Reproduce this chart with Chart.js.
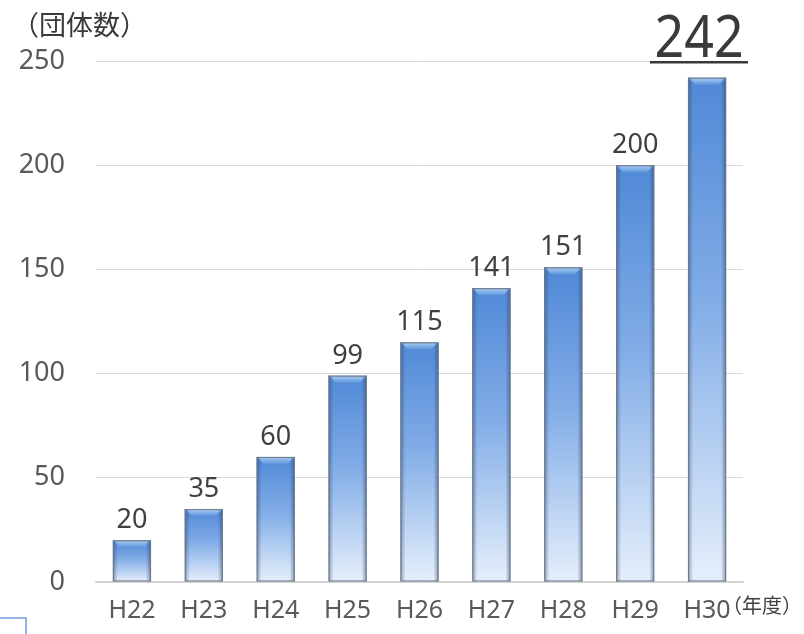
<!DOCTYPE html>
<html lang="ja">
<head>
<meta charset="utf-8">
<title>団体数の推移</title>
<script src="https://cdn.jsdelivr.net/npm/chart.js@4/dist/chart.umd.min.js"></script>
<style>
  html, body { margin: 0; padding: 0; background: #ffffff; }
  #wrap { position: relative; width: 804px; height: 634px; overflow: hidden; }
  canvas { position: absolute; left: 0; top: 0; }
  #corner { position: absolute; left: -2px; top: 617px; width: 29px; height: 30px;
            border: 2px solid #8fb4e3; box-sizing: border-box; background: #fff; }
</style>
</head>
<body>
<div id="wrap">
  <canvas id="chart" width="804" height="634"></canvas>
  <div id="corner"></div>
</div>
<script>
// 年度ごとの団体数
const years = ['H22', 'H23', 'H24', 'H25', 'H26', 'H27', 'H28', 'H29', 'H30'];
const groupCounts = [20, 35, 60, 99, 115, 141, 151, 200, 242];
const yTicks = [0, 50, 100, 150, 200, 250];
const yAxisTitle = '（団体数）';
const xAxisUnit = '（年度）';

const FONT = '"Noto Sans", "Noto Sans CJK JP", sans-serif';
const CJK_FONT = '"Noto Sans CJK JP", sans-serif';

// Per-bar vertical gradient: deeper blue at the top, pale at the base
function barGradient(ctx) {
  const chart = ctx.chart;
  const area = chart.chartArea;
  if (!area || ctx.dataIndex === undefined) return '#6f9fe0';
  const y = chart.scales.y;
  const top = y.getPixelForValue(groupCounts[ctx.dataIndex]);
  const bottom = y.getPixelForValue(0);
  const g = chart.ctx.createLinearGradient(0, top, 0, bottom);
  g.addColorStop(0, '#5089d7');
  g.addColorStop(0.45, '#82ade7');
  g.addColorStop(1, '#e6effb');
  return g;
}

// Bevel shading on each bar: light top face and darker sides
const bevelPlugin = {
  id: 'bevel',
  afterDatasetsDraw(chart) {
    const c = chart.ctx;
    const meta = chart.getDatasetMeta(0);
    meta.data.forEach((bar) => {
      const p = bar.getProps(['x', 'y', 'base', 'width'], true);
      const l = p.x - p.width / 2, r = p.x + p.width / 2;
      const t = p.y, b = p.base;
      const d = 7;
      c.save();
      // top face
      const tg = c.createLinearGradient(0, t, 0, t + d);
      tg.addColorStop(0, '#a9cdf5');
      tg.addColorStop(1, '#5f97dc');
      c.fillStyle = tg;
      c.beginPath();
      c.moveTo(l, t);
      c.lineTo(r, t);
      c.lineTo(r - d, t + d);
      c.lineTo(l + d, t + d);
      c.closePath();
      c.fill();
      // side shading
      const lg = c.createLinearGradient(l, 0, l + 5, 0);
      lg.addColorStop(0, 'rgba(40,60,100,0.45)');
      lg.addColorStop(1, 'rgba(40,60,100,0)');
      c.fillStyle = lg;
      c.fillRect(l, t, 5, b - t);
      const rg = c.createLinearGradient(r - 5, 0, r, 0);
      rg.addColorStop(0, 'rgba(40,60,100,0)');
      rg.addColorStop(1, 'rgba(40,60,100,0.5)');
      c.fillStyle = rg;
      c.fillRect(r - 5, t, 5, b - t);
      // outline
      c.strokeStyle = 'rgba(110,120,135,0.9)';
      c.lineWidth = 1.2;
      c.strokeRect(l + 0.5, t + 0.5, p.width - 1, b - t - 1);
      c.restore();
    });
  }
};

// Value labels, axis captions and the headline total
const labelPlugin = {
  id: 'labels',
  afterDraw(chart) {
    const c = chart.ctx;
    const meta = chart.getDatasetMeta(0);
    const last = groupCounts.length - 1;
    c.save();
    c.fillStyle = '#404040';
    c.textAlign = 'center';
    c.textBaseline = 'alphabetic';
    c.font = '27px ' + FONT;
    meta.data.forEach((bar, i) => {
      if (i === last) return;
      c.fillText(String(groupCounts[i]), bar.x, bar.y - 12);
    });
    // headline total above the final bar, underlined
    const lastBar = meta.data[last];
    const txt = String(groupCounts[last]);
    const cx = lastBar.x - 8;
    c.fillStyle = '#3a3a3a';
    c.font = '59px ' + FONT;
    c.save();
    c.translate(cx, 57);
    c.scale(0.88, 1);
    c.fillText(txt, 0, 0);
    c.restore();
    c.fillRect(650, 61, 98, 2.5);
    // axis captions
    c.fillStyle = '#3a3a3a';
    c.textAlign = 'left';
    c.font = '27px ' + CJK_FONT;
    c.fillText(yAxisTitle, 12, 35);
    c.fillStyle = '#404040';
    c.font = '20px ' + CJK_FONT;
    c.fillText(xAxisUnit, 722, 613);
    c.restore();
  }
};

new Chart(document.getElementById('chart'), {
  type: 'bar',
  data: {
    labels: years,
    datasets: [{
      data: groupCounts,
      backgroundColor: barGradient,
      borderWidth: 0,
      categoryPercentage: 1,
      barPercentage: 0.53
    }]
  },
  options: {
    responsive: false,
    animation: false,
    events: [],
    layout: { padding: { left: 0, right: 61, top: 61, bottom: 0 } },
    plugins: { legend: { display: false }, tooltip: { enabled: false } },
    scales: {
      x: {
        grid: { display: false, drawTicks: false },
        border: { display: true, color: '#d0d0d0', width: 1.5 },
        ticks: { color: '#595959', font: { size: 25, family: FONT }, padding: 14, maxRotation: 0 },
        afterFit(s) { s.height = 52; }
      },
      y: {
        min: 0,
        max: 250,
        afterBuildTicks(s) { s.ticks = yTicks.map(v => ({ value: v })); },
        grid: { color: '#d9d9d9', lineWidth: 1, drawTicks: false },
        border: { display: false },
        ticks: { color: '#595959', font: { size: 27, family: FONT }, padding: 31 },
        afterFit(s) { s.width = 96; }
      }
    }
  },
  plugins: [bevelPlugin, labelPlugin]
});
</script>
</body>
</html>
